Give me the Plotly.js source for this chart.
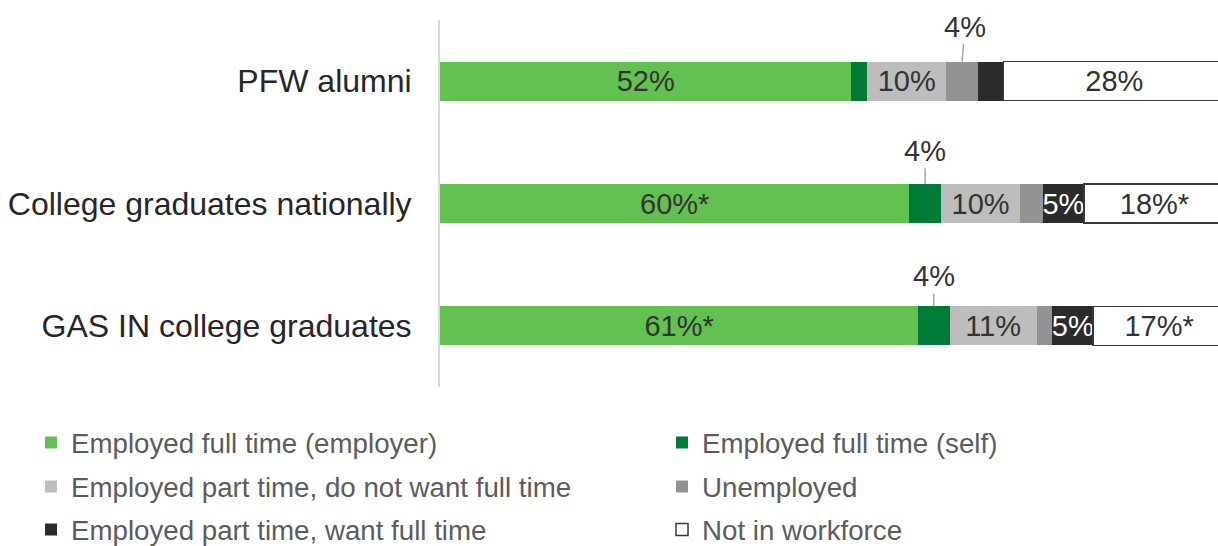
<!DOCTYPE html>
<html>
<head>
<meta charset="utf-8">
<script src="https://cdn.plot.ly/plotly-3.0.1.min.js"></script>
<style>html,body{margin:0;padding:0;background:#fff;}#chart{width:1218px;height:546px;}</style>
</head>
<body>
<div id="chart"></div>
<script>
// Categories (top to bottom)
const categories = ["PFW alumni", "College graduates nationally", "GAS IN college graduates"];

// Series values (% of respondents)
const employerFT   = [52.4, 59.8, 60.9];
const selfFT       = [2.0, 4.0, 4.0];
const partNoWant   = [10.1, 10.1, 11.1];
const unemployed   = [4.0, 2.9, 2.0];
const partWant     = [3.3, 5.2, 5.2];
const notWorkforce = [28.2, 18.0, 16.8];

// Labels as printed on the chart
const employerLabels = ["52%", "60%*", "61%*"];
const partNoLabels   = ["10%", "10%", "11%"];
const partWantLabels = ["", "5%", "5%"];
const notWorkLabels  = ["28%", "18%*", "17%*"];
const selfLabels     = ["", "4%", "4%"];
const unempLabels    = ["4%", "", ""];

const seriesNames = [
  "Employed full time (employer)",
  "Employed full time (self)",
  "Employed part time, do not want full time",
  "Unemployed",
  "Employed part time, want full time",
  "Not in workforce"
];

const colors = ["#62c150", "#007a37", "#bdbdbd", "#939393", "#2b2b2b", "#ffffff"];
const BW = 0.32;
const font = "Liberation Sans, Arial, sans-serif";
const legendIds = ["legend", "legend2", "legend3", "legend4", "legend5", "legend6"];

function mk(i, vals, labels, txtColor) {
  return {
    type: "bar", orientation: "h",
    y: categories, x: vals,
    name: seriesNames[i],
    width: BW,
    marker: {color: colors[i], line: {width: i === 5 ? 1.5 : 0, color: "#3a3a3a"}},
    text: labels,
    textposition: labels ? "inside" : "none",
    insidetextanchor: "middle",
    constraintext: "none",
    textfont: {family: font, size: 29, color: txtColor},
    insidetextfont: {family: font, size: 29, color: txtColor},
    hoverinfo: "x+name",
    legend: legendIds[i],
    cliponaxis: true
  };
}

const data = [
  mk(0, employerFT, employerLabels, "#333333"),
  mk(1, selfFT, null, "#333333"),
  mk(2, partNoWant, partNoLabels, "#333333"),
  mk(3, unemployed, null, "#333333"),
  mk(4, partWant, partWantLabels, "#ffffff"),
  mk(5, notWorkforce, notWorkLabels, "#333333")
];

// Annotations for small-segment labels (placed above bars with leader lines)
const annotations = [];
const aySet = [-35, -33, -30];
categories.forEach((c, i) => {
  if (selfLabels[i]) {
    annotations.push({
      x: employerFT[i] + selfFT[i] / 2, y: i - BW / 2, xref: "x", yref: "y",
      text: selfLabels[i], showarrow: true, arrowhead: 0, arrowwidth: 1.5, arrowcolor: "#a6a6a6",
      ax: 0, ay: aySet[i], font: {family: font, size: 29, color: "#333333"}
    });
  }
  if (unempLabels[i]) {
    annotations.push({
      x: employerFT[i] + selfFT[i] + partNoWant[i] + unemployed[i] / 2, y: i - BW / 2, xref: "x", yref: "y",
      text: unempLabels[i], showarrow: true, arrowhead: 0, arrowwidth: 1.5, arrowcolor: "#a6a6a6",
      ax: 3, ay: aySet[i], font: {family: font, size: 29, color: "#333333"}
    });
  }
});

// legend positions (container px): two columns, three rows
const colX = [31, 662];
const rowY = [443, 487, 530];
function legendAt(k) {
  const col = k % 2, row = Math.floor(k / 2);
  return {
    orientation: "h", xref: "container", yref: "container",
    x: colX[col] / 1218, xanchor: "left",
    y: (546 - rowY[row]) / 546, yanchor: "middle",
    font: {family: font, size: 27.7, color: "#5c5c5c"},
    bgcolor: "rgba(0,0,0,0)", borderwidth: 0, itemclick: false
  };
}

const layout = {
  width: 1218, height: 546,
  margin: {l: 440, r: 0, t: 20, b: 159},
  paper_bgcolor: "#ffffff", plot_bgcolor: "#ffffff",
  barmode: "stack",
  showlegend: true,
  xaxis: {range: [0, 99.1], visible: false, fixedrange: true},
  yaxis: {
    type: "category", categoryorder: "array", categoryarray: categories,
    autorange: "reversed",
    showline: true, linecolor: "#d9d9d9", linewidth: 2,
    showgrid: false, zeroline: false, ticks: "",
    ticklabelstandoff: 20,
    tickfont: {family: font, size: 32, color: "#262626"},
    fixedrange: true
  },
  annotations: annotations
};
legendIds.forEach((id, k) => { layout[id] = legendAt(k); });

Plotly.newPlot("chart", data, layout, {displayModeBar: false, staticPlot: true});
</script>
</body>
</html>
